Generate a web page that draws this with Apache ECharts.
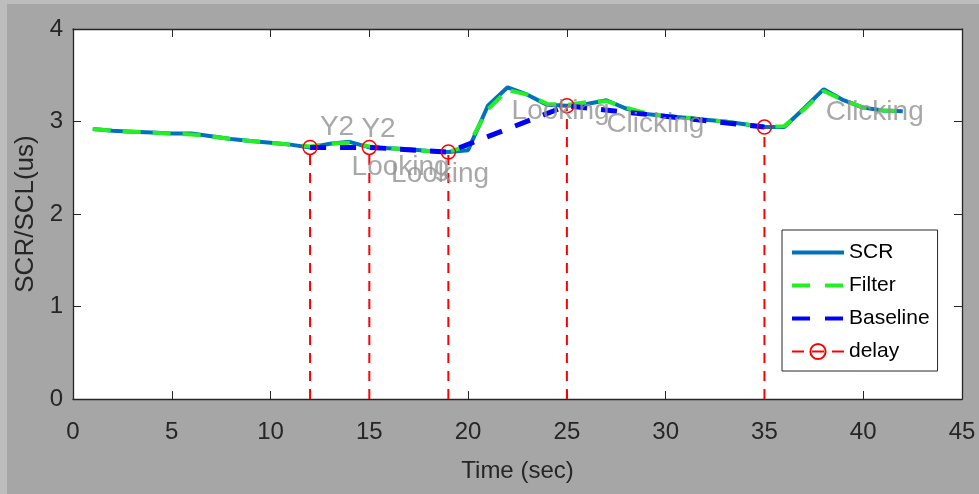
<!DOCTYPE html>
<html>
<head>
<meta charset="utf-8">
<script src="https://cdn.jsdelivr.net/npm/echarts@6/dist/echarts.min.js"></script>
<style>
html,body{margin:0;padding:0;background:#a6a6a6;}
#c{width:979px;height:494px;}
</style>
</head>
<body>
<div id="c"></div>
<script>
// ---- data ----
const timeSec = [1,2,3,4,5,6,7,8,9,10,11,12,13,14,15,16,17,18,19,20,21,22,23,24,25,26,27,28,29,30,31,32,33,34,35,36,37,38,39,40,41,42];
const scrValues = [2.92,2.90,2.89,2.88,2.87,2.87,2.84,2.81,2.79,2.77,2.75,2.72,2.76,2.78,2.72,2.71,2.70,2.68,2.67,2.69,3.17,3.37,3.29,3.18,3.17,3.19,3.23,3.14,3.08,3.06,3.04,3.02,3.00,2.97,2.94,2.94,3.14,3.35,3.23,3.15,3.12,3.11];
const filterValues = [2.92,2.90,2.89,2.88,2.87,2.86,2.84,2.81,2.79,2.77,2.75,2.73,2.76,2.77,2.73,2.71,2.70,2.68,2.67,2.74,3.13,3.34,3.29,3.19,3.18,3.21,3.22,3.15,3.09,3.06,3.04,3.02,3.00,2.97,2.94,2.95,3.13,3.33,3.23,3.15,3.12,3.11];
const delayTimes = [12,15,19,25,35];
const delayValues = [2.72,2.72,2.67,3.17,2.94];
const baselineTimes = [12,15,19,25,35];
const baselineValues = [2.72,2.72,2.67,3.17,2.94];
const noteTexts = ['Y2','Y2','Looking','Looking','Looking','Clicking','Clicking'];
const noteTimes = [12.5,14.6,14.1,16.1,22.2,27.0,38.1];
const noteValues = [2.94,2.92,2.50,2.43,3.11,2.97,3.10];
const xTicks = {min:0,max:45,interval:5};
const yTicks = {min:0,max:4,interval:1};

// ---- build ----
const zip = (xs, ys) => xs.map((x, i) => [x, ys[i]]);
const delayData = [];
delayTimes.forEach((t, i) => {
  delayData.push({value:[t, 0], symbol:'none'});
  delayData.push({value:[t, delayValues[i]]});
  delayData.push({value:[t, '-']});
});
const noteData = noteTexts.map((s, i) => ({name:s, value:[noteTimes[i], noteValues[i]]}));

const FONT = '"Liberation Sans", Arial, Helvetica, sans-serif';
const axisCol = '#262626';
const SCR_C = '#0072BD', FIL_C = '#22f022', BASE_C = '#0000ff', DEL_C = '#ff0000';
const chart = echarts.init(document.getElementById('c'), null, {renderer:'canvas'});
const baseX = {
  type:'value', min:xTicks.min, max:xTicks.max, interval:xTicks.interval,
  axisLine:{show:true, onZero:false, lineStyle:{color:axisCol, width:1.3}},
  axisTick:{show:true, inside:true, length:8, lineStyle:{color:axisCol}},
  splitLine:{show:false}
};
const baseY = {
  type:'value', min:yTicks.min, max:yTicks.max, interval:yTicks.interval,
  axisLine:{show:true, onZero:false, lineStyle:{color:axisCol, width:1.3}},
  axisTick:{show:true, inside:true, length:8, lineStyle:{color:axisCol}},
  splitLine:{show:false}
};
chart.setOption({
  animation:false,
  backgroundColor:'#a6a6a6',
  textStyle:{fontFamily:FONT},
  graphic:[
    {type:'rect', left:0, top:0, shape:{width:7, height:494}, style:{fill:'#bdbdbd'}, silent:true},
    {type:'rect', left:0, top:0, shape:{width:979, height:4}, style:{fill:'#bdbdbd'}, silent:true}
  ],
  grid:{left:73, right:17, top:29, bottom:95, show:true, backgroundColor:'#ffffff', borderWidth:0},
  legend:{
    orient:'vertical', left:782, top:230,
    data:[
      {name:'SCR', itemStyle:{opacity:0}, lineStyle:{width:4, color:SCR_C, type:'solid'}},
      {name:'Filter', itemStyle:{opacity:0}, lineStyle:{width:4, color:FIL_C, type:[18,15]}},
      {name:'Baseline', itemStyle:{opacity:0}, lineStyle:{width:4, color:BASE_C, type:[18,15]}},
      {name:'delay', lineStyle:{width:2, color:DEL_C, type:[12,8]}}
    ],
    selectedMode:false,
    backgroundColor:'#ffffff', borderColor:axisCol, borderWidth:1,
    padding:[12,8,9,8], itemGap:12, itemWidth:52, itemHeight:19, itemTextGap:7,
    textStyle:{fontSize:21, color:'#000', fontFamily:FONT}
  },
  xAxis:[
    Object.assign({}, baseX, {
      position:'bottom',
      name:'Time (sec)', nameLocation:'middle', nameGap:60,
      nameTextStyle:{fontSize:24, color:axisCol, fontFamily:FONT},
      axisLabel:{show:true, margin:21, fontSize:24, color:axisCol, fontFamily:FONT}
    }),
    Object.assign({}, baseX, {position:'top', axisLabel:{show:false}})
  ],
  yAxis:[
    Object.assign({}, baseY, {
      position:'left',
      name:'SCR/SCL(us)', nameLocation:'middle', nameGap:30,
      nameTextStyle:{fontSize:26, color:axisCol, fontFamily:FONT},
      axisLabel:{show:true, margin:10, fontSize:24, color:axisCol, fontFamily:FONT}
    }),
    Object.assign({}, baseY, {position:'right', axisLabel:{show:false}})
  ],
  series:[
    {name:'SCR', type:'line', data:zip(timeSec, scrValues), symbol:'none',
     lineStyle:{color:SCR_C, width:4}, itemStyle:{color:SCR_C}, z:2},
    {name:'Filter', type:'line', data:zip(timeSec, filterValues), symbol:'none',
     lineStyle:{color:FIL_C, width:4, type:[18,12]}, itemStyle:{color:FIL_C}, z:3},
    {name:'Baseline', type:'line', data:zip(baselineTimes, baselineValues), symbol:'none',
     lineStyle:{color:BASE_C, width:5, type:[16,14]}, itemStyle:{color:BASE_C}, z:4},
    {name:'delay', type:'line', data:delayData, connectNulls:false,
     symbol:'circle', symbolSize:14, showSymbol:true,
     lineStyle:{color:DEL_C, width:2, type:[10,8]},
     itemStyle:{color:'rgba(255,255,255,0)', borderColor:DEL_C, borderWidth:1.5, opacity:1},
     z:5},
    {name:'notes', type:'scatter', data:noteData, symbolSize:0, silent:true, z:6,
     label:{show:true, position:'right', distance:0, formatter:p => p.name,
            fontSize:28, color:'#929292', fontFamily:FONT}}
  ]
});
</script>
</body>
</html>
